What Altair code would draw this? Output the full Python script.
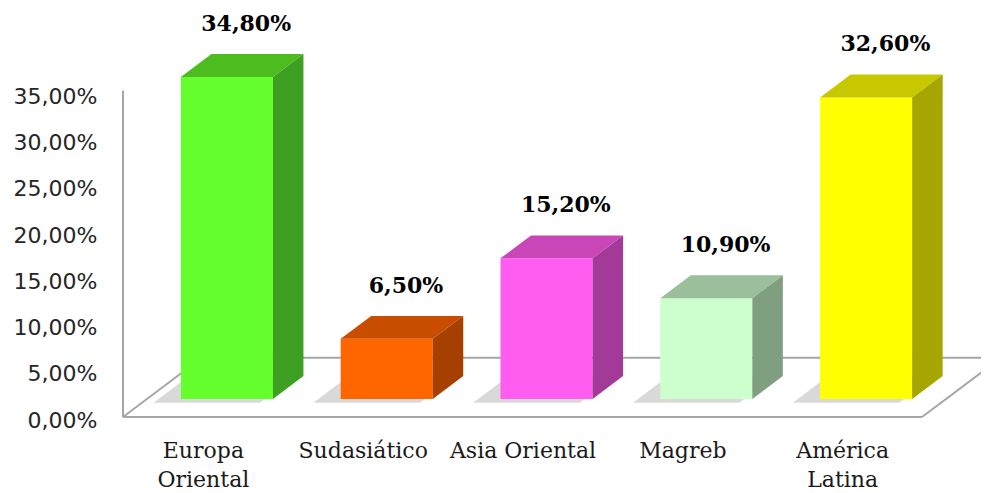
import json
import altair as alt
import pandas as pd

# ---------------- data ----------------
categories = ["Europa\nOriental", "Sudasiático", "Asia Oriental", "Magreb", "América\nLatina"]
values = [34.8, 6.5, 15.2, 10.9, 32.6]
front_colors = ["#66FF2E", "#FF6600", "#FF5CF0", "#CCFFCC", "#FFFF00"]
top_colors = ["#4CBC1E", "#C84D00", "#C846B8", "#9ABF9A", "#C8C800"]
side_colors = ["#3EA022", "#A54000", "#A43A98", "#809F80", "#A6A600"]
y_ticks = [0, 5, 10, 15, 20, 25, 30, 35]

# ---------------- 3D geometry (data units) ----------------
HW = 0.288      # half width of a bar (x units)
K = 0.077       # x shift per y unit of depth
B0 = 1.95       # depth of bar front face
B1 = 4.43       # depth of bar back face
FD = 6.4        # depth of floor
Y_MAX = 44
X_MAX = 4.869
AXIS_TOP = 35.3

n = len(categories)
value_labels = [f"{v:.2f}".replace(".", ",") + "%" for v in values]

front_rows, top_rows, side_rows, shadow_rows, text_rows = [], [], [], [], []
for i, (c, v) in enumerate(zip(categories, values)):
    front_rows.append(dict(cat=c, x=i + B0 * K - HW, x2=i + B0 * K + HW, y=B0, y2=v + B0, col=front_colors[i]))
    for d in (B0, B1):
        top_rows.append(dict(cat=c, y=v + d, x=i + d * K - HW, x2=i + d * K + HW, col=top_colors[i]))
        side_rows.append(dict(cat=c, x=i + d * K + HW, y=d, y2=v + d, col=side_colors[i]))
    for d in (B0 - 0.4, B1):
        shadow_rows.append(dict(cat=c, y=d, x=i + d * K - HW - 0.14, x2=i + d * K + HW - 0.05))
    text_rows.append(dict(x=i + (B0 + B1) / 2 * K, y=v + B1, t=value_labels[i]))

front_df = pd.DataFrame(front_rows)
top_df = pd.DataFrame(top_rows)
side_df = pd.DataFrame(side_rows)
shadow_df = pd.DataFrame(shadow_rows)
text_df = pd.DataFrame(text_rows)

floor_df = pd.DataFrame([
    dict(x=-0.5, y=0, x2=n - 0.5, y2=0),
    dict(x=-0.5, y=0, x2=-0.5 + FD * K, y2=FD),
    dict(x=-0.5 + FD * K, y=FD, x2=n - 0.5 + FD * K, y2=FD),
    dict(x=n - 0.5, y=0, x2=n - 0.5 + FD * K, y2=FD),
    dict(x=-0.5, y=0, x2=-0.5, y2=AXIS_TOP),
])

xs = alt.Scale(domain=[-0.5, X_MAX], nice=False, zero=False)
ys = alt.Scale(domain=[0, Y_MAX], nice=False, zero=False)

x_label_expr = json.dumps([c.split("\n") for c in categories], ensure_ascii=False) + "[datum.value]"
y_label_expr = "replace(format(datum.value, '.2f'), '.', ',') + '%'"

x_axis = alt.Axis(values=list(range(n)), labelExpr=x_label_expr, title=None, domain=False,
                  ticks=False, tickSize=0, grid=False, labelFont="DejaVu Serif", labelFontSize=22,
                  labelColor="#1a1a1a", labelPadding=23, labelLineHeight=29, labelOverlap=False,
                  labelFlush=False, labelBound=False)
y_axis = alt.Axis(values=y_ticks, labelExpr=y_label_expr, title=None, domain=False, ticks=False,
                  tickSize=0, grid=False, labelFont="DejaVu Sans", labelFontSize=22,
                  labelColor="#262626", labelPadding=26, labelOffset=3, labelOverlap=False,
                  labelFlush=False)

X = lambda: alt.X("x:Q", scale=xs, axis=x_axis)
Y = lambda: alt.Y("y:Q", scale=ys, axis=y_axis)

floor = alt.Chart(floor_df).mark_rule(color="#A6A6A6", strokeWidth=2).encode(
    x=X(), x2="x2:Q", y=Y(), y2="y2:Q",
)

shadow = alt.Chart(shadow_df).mark_area(orient="horizontal", color="#BFBFBF", opacity=0.6).encode(
    y=Y(), x=X(), x2="x2:Q", detail="cat:N",
)

front = alt.Chart(front_df).mark_rect().encode(
    x=X(), x2="x2:Q", y=Y(), y2="y2:Q",
    color=alt.Color("col:N", scale=None),
)

top = alt.Chart(top_df).mark_area(orient="horizontal").encode(
    y=Y(), x=X(), x2="x2:Q", detail="cat:N",
    color=alt.Color("col:N", scale=None),
)

side = alt.Chart(side_df).mark_area(orient="vertical").encode(
    x=X(), y=Y(), y2="y2:Q", detail="cat:N",
    color=alt.Color("col:N", scale=None),
)

text = alt.Chart(text_df).mark_text(font="DejaVu Serif", fontWeight="bold", fontSize=22, dy=-30, dx=4,
                                    baseline="middle", align="center", color="#000000").encode(
    x=X(), y=Y(), text="t:N",
)

chart = alt.layer(floor, shadow, front, top, side, text).properties(
    width=858, height=407,
    padding={"left": 115, "right": 0, "top": 2, "bottom": 76},
    autosize=alt.AutoSizeParams(type="none"),
    background="white",
).configure_view(strokeWidth=0)

chart.save("out.html", embed_options={"renderer": "svg", "actions": False})
